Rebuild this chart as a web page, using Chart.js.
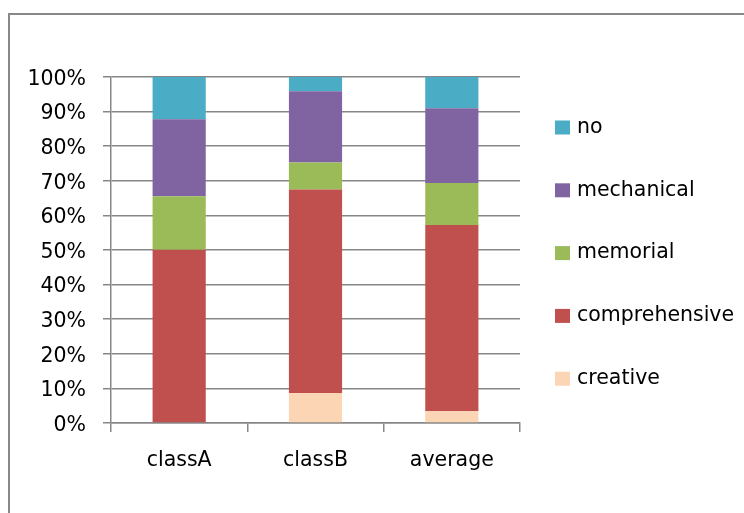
<!DOCTYPE html>
<html>
<head>
<meta charset="utf-8">
<script src="https://cdn.jsdelivr.net/npm/chart.js@4.4.1/dist/chart.umd.min.js"></script>
<style>
  html, body { margin: 0; padding: 0; width: 744px; height: 513px; overflow: hidden; background: #fff; }
  #frame { position: absolute; left: 8px; top: 13px; width: 900px; height: 700px; border: 2px solid #898989; box-sizing: border-box; }
  #wrap { position: absolute; left: 0; top: 0; width: 744px; height: 513px; }
</style>
</head>
<body>
<div id="frame"></div>
<div id="wrap"><canvas id="c" width="744" height="513"></canvas></div>
<script>
// ---- data ----
const categories = ["classA", "classB", "average"];
const seriesNames = ["creative", "comprehensive", "memorial", "mechanical", "no"];
const creative      = [0.0, 8.7, 3.4];
const comprehensive = [50.1, 58.8, 53.8];
const memorial      = [15.4, 7.8, 12.2];
const mechanical    = [22.3, 20.6, 21.6];
const no            = [12.2, 4.1, 9.0];
const yTickValues   = [0, 10, 20, 30, 40, 50, 60, 70, 80, 90, 100];

const seriesValues = [creative, comprehensive, memorial, mechanical, no];
const colors = ["#FCD5B5", "#C0504D", "#9BBB59", "#8064A2", "#4BACC6"];

const FONT = "'DejaVu Sans', sans-serif";
const FSIZE = 20.5;
const GRID = "#878787";

const legendPlugin = {
  id: "sideLegend",
  afterDraw(chart) {
    const ctx = chart.ctx;
    const ds = chart.data.datasets.slice().reverse();
    const x0 = 555, y0 = 127.5, step = 62.8;
    ctx.save();
    ctx.font = FSIZE + "px " + FONT;
    ctx.textBaseline = "middle";
    ctx.textAlign = "left";
    ds.forEach((d, i) => {
      const cy = y0 + i * step;
      ctx.fillStyle = d.backgroundColor;
      ctx.fillRect(x0, cy - 7, 15, 14);
      ctx.fillStyle = "#000";
      ctx.fillText(d.label, x0 + 22, cy);
    });
    ctx.restore();
  }
};

new Chart(document.getElementById("c"), {
  type: "bar",
  data: {
    labels: categories,
    datasets: seriesNames.map((n, i) => ({
      label: n,
      data: seriesValues[i],
      backgroundColor: colors[i],
      borderWidth: 0,
      barPercentage: 0.39,
      categoryPercentage: 1.0
    }))
  },
  options: {
    responsive: false,
    animation: false,
    layout: { padding: { top: 77, right: 224, left: 0, bottom: 0 } },
    plugins: { legend: { display: false }, tooltip: { enabled: false } },
    scales: {
      x: {
        stacked: true,
        grid: { display: true, drawOnChartArea: false, drawTicks: true, tickLength: 9, color: GRID, lineWidth: 1.5, offset: true },
        border: { display: true, color: GRID, width: 1.5 },
        ticks: { color: "#000", font: { family: FONT, size: FSIZE }, padding: 16, maxRotation: 0 },
        afterFit(scale) { scale.height = 90; }
      },
      y: {
        stacked: true,
        min: 0, max: 100,
        afterBuildTicks(scale) { scale.ticks = yTickValues.map(v => ({ value: v })); },
        grid: { color: GRID, lineWidth: 1.5, drawTicks: true, tickLength: 8 },
        border: { display: true, color: GRID, width: 1.5 },
        ticks: { color: "#000", font: { family: FONT, size: FSIZE }, padding: 17, labelOffset: 2.5, callback: v => v + "%" },
        afterFit(scale) { scale.width = 111; }
      }
    }
  },
  plugins: [legendPlugin]
});
</script>
</body>
</html>
